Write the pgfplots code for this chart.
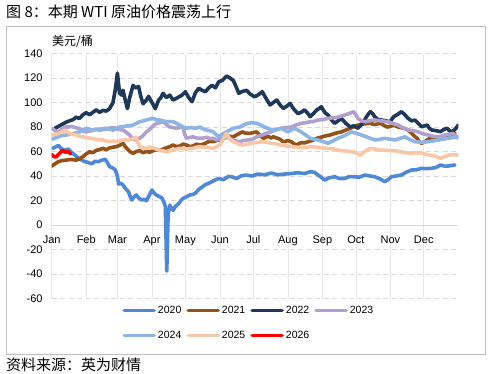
\documentclass[border=0pt]{standalone}
\usepackage{fontspec}
\setmainfont{Liberation Sans}
\newfontfamily\cjk{Noto Sans CJK SC}
\usepackage{pgfplots}
\pgfplotsset{compat=1.18}
\definecolor{cA}{RGB}{79,136,212}
\definecolor{cB}{RGB}{148,82,24}
\definecolor{cC}{RGB}{31,56,90}
\definecolor{cD}{RGB}{177,160,207}
\definecolor{cE}{RGB}{142,180,227}
\definecolor{cF}{RGB}{247,200,168}
\definecolor{cG}{RGB}{255,0,0}
\definecolor{frame}{RGB}{191,191,191}
\definecolor{gridc}{RGB}{217,217,217}
\definecolor{vgridc}{RGB}{230,230,230}
\begin{document}
\begin{tikzpicture}
\path[use as bounding box] (0pt,0pt) rectangle (494pt,-373pt);
\draw[color=frame, line width=0.8pt] (6.5pt,-26.5pt) rectangle (485pt,-354pt);
\node[anchor=west, inner sep=0pt, font=\cjk\fontsize{15}{18}\selectfont] at (6pt,-12pt) {图 8：本期 WTI 原油价格震荡上行};
\node[anchor=west, inner sep=0pt, font=\cjk\fontsize{15}{18}\selectfont] at (6pt,-365pt) {资料来源：英为财情};
\node[anchor=west, inner sep=0pt, font=\cjk\fontsize{12}{14}\selectfont] at (52pt,-42pt) {美元/桶};
\begin{axis}[
  at={(51.7pt,-298.5pt)}, anchor=south west,
  scale only axis, width=406.6pt, height=245pt,
  xmin=0, xmax=365, ymin=-60, ymax=140,
  axis x line*=middle, axis y line*=left,
  hide obscured x ticks=false, hide obscured y ticks=false,
  x axis line style={color=gridc, line width=0.8pt},
  y axis line style={draw=none},
  tick style={draw=none},
  xtick={0,31,59,90,120,151,181,212,243,273,304,334},
  xticklabels={Jan,Feb,Mar,Apr,May,Jun,Jul,Aug,Sep,Oct,Nov,Dec},
  ytick={-60,-40,-20,0,20,40,60,80,100,120,140},
  /pgf/number format/assume math mode=true,
  xticklabel style={font=\fontsize{11}{13}\selectfont, anchor=north, inner sep=0pt, yshift=-10.5pt},
  yticklabel style={font=\fontsize{11}{13}\selectfont, anchor=east, inner sep=0pt, xshift=-9pt},
  xmajorgrids, ymajorgrids,
  x grid style={color=vgridc, line width=0.6pt},
  y grid style={color=gridc, line width=0.8pt, dash pattern=on 5pt off 3.5pt},
  every axis plot/.append style={line width=3.6pt, line join=round, line cap=round},
  legend columns=4,
  legend image code/.code={\draw[#1, line cap=round] (0pt,0pt) -- (30pt,0pt);},
  legend style={draw=none, fill=none, at={(0.166,-0.0143)}, anchor=north west,
    font=\fontsize{10.5}{12}\selectfont, row sep=12pt,
    /tikz/every even column/.append style={column sep=3pt},
    nodes={inner sep=2pt}},
]
\addplot[cA] coordinates {(1,62.6)(4,64)(6,65)(9,62)(12,61)(15,62)(18,59)(21,57)(24,54.4)(27,53)(30,51.7)(33,51)(36,50)(39,52)(42,51.7)(45,53)(48,53.6)(50,51)(52,47.6)(55,46.5)(57,45)(59,40)(60,33.5)(62,34)(64,32.7)(66,30)(69,27)(71,22)(72,20.4)(74,23)(76,24.5)(78,22)(81,20.4)(83,21)(85,19.8)(88,25)(90,28.6)(92,26)(94,24.5)(97,23)(99,22)(101,18)(102,15)(103.3,-37.6)(104.5,8)(106,16.3)(108,13)(109,12)(111,15)(114,17.5)(116,20)(118,21.8)(121,23)(124,24.5)(127,25)(129,26)(132,29)(135,31)(138,33)(141,34)(145,36)(150,38)(154,37)(159,39.8)(163,39)(166,38)(170,40)(174,40.8)(180,40)(185,41.6)(191,41)(197,42.4)(203,41)(209,41.6)(215,42)(221,42.7)(227,42)(232,43.5)(236,43)(239,40.8)(242,39)(245,36.7)(249,38.5)(254,39.4)(258,38)(263,38)(267,39.5)(272,39.4)(276,39)(281,40.8)(286,40)(290,39.4)(295,37.5)(299,35.4)(302,37)(305,39.4)(309,40)(314,40.8)(318,43)(323,44.9)(327,45)(332,46.3)(336,46)(341,46.3)(345,47)(349,49)(353,48)(356,48.2)(362,49)};
\addplot[cB] coordinates {(0,48)(3,50)(6,51.7)(9,52.5)(13,53)(17,53.5)(22,53)(25,54)(28,55.8)(31,58)(34,59.8)(37,59)(40,61)(43,61.5)(46,62.6)(49,61.5)(52,63)(55,63.5)(58,64)(61,65)(64,66.8)(66,64)(69,61)(71,59.5)(73,58.5)(76,60)(79,60.7)(82,59)(85,60)(88,59.5)(91,60.7)(94,61.5)(97,61)(100,62)(103,63)(106,64)(109,65.3)(112,64)(115,64.5)(118,66)(121,65.3)(124,64)(127,64.5)(130,66)(133,65.3)(136,66)(139,67.2)(142,68.5)(145,68)(148,69)(151,69.4)(154,70.5)(157,71.6)(160,72.5)(163,72)(167,74)(171,76)(174,75)(178,74.8)(181,75.5)(184,76)(187,73)(190,70.8)(192,71.5)(194,72.6)(197,71)(199,72)(202,71)(205,70)(207,68.5)(209,68)(212,69)(215,68)(218,66)(220,65.3)(222,66.5)(224,67.2)(227,67)(230,68)(234,69)(238,70.8)(241,71.5)(245,72.6)(250,73.5)(255,75)(260,76)(264,77.5)(268,79)(272,80.5)(275,81.6)(280,82.5)(286,83)(290,82)(295,83)(298,81.5)(301,80)(304,80.5)(307,81.6)(311,80)(316,79)(319,78)(322,76)(325,73)(328,70.8)(330,68)(332,66.7)(335,68)(337,69.4)(340,71)(343,72)(346,71.5)(349,71)(353,71.5)(356,72)(359,73.5)(362,75)};
\addplot[cC] coordinates {(3,79)(6,80.5)(9,82)(13,84)(16,85)(19,86)(22,88)(25,87)(28,90)(31,91.7)(34,90)(37,92)(40,94)(43,92)(46,93.5)(49,93)(52,95)(55,100)(57,110)(59,124)(60,115)(61,107.5)(63,106)(64,110)(66,102)(68,95)(70,104)(73,114)(75,112)(78,113)(80,105)(82,99)(85,102)(87,105)(90,100)(93,95)(96,102)(98,104)(100,107.5)(103,104)(106,106)(109,102)(113,104)(117,106)(120,108.8)(123,104)(126,100.7)(129,108)(132,111.6)(135,110)(138,108.8)(141,112)(144,114)(147,112)(150,117)(153,118)(157,121.6)(160,120)(163,118)(165,114)(168,107.5)(171,109)(175,110)(178,107)(182,104.7)(185,106)(189,108.8)(192,104)(196,98)(199,100)(202,102)(205,98)(208,95.2)(211,97)(214,99.3)(217,95)(221,91)(224,92)(227,94)(230,91)(232,88.4)(235,91)(238,94)(240,95)(242,96.6)(245,92)(248,89.8)(251,86)(254,83)(257,85)(260,87)(264,83)(268,80)(271,81)(275,79)(277,81)(280,84.3)(283,89)(286,92.5)(288,91)(290,88.4)(293,86)(296,85.7)(300,85)(304,84.3)(305,86)(307,88.4)(310,90)(314,92.5)(317,90)(320,87)(323,85)(326,85.7)(329,83)(332,80.2)(335,81)(337,81.6)(339,79)(341,77.6)(345,77)(349,76.2)(352,78)(355,79)(357,77)(359,76.2)(362,78)(365,81.6)};
\addplot[cD] coordinates {(0,79)(3,77)(6,76)(9,78)(12,80)(15,80)(18,80.5)(21,79.5)(24,79)(27,77.5)(30,76)(33,76.5)(36,77)(40,78)(43,77.5)(47,78)(52,79)(55,79.5)(58,79)(61,78)(64,77.5)(67,75.5)(70,73.5)(72,71)(75,69.4)(77,70)(79,70.8)(82,73)(85,76)(88,78)(90,80)(92,81.5)(94,83)(97,83.5)(100,84.3)(103,82)(106,80)(109,79.5)(112,79)(115,79.5)(118,80)(119,75)(121,70.8)(124,71.5)(127,72)(130,71)(133,70.8)(136,71)(139,71.6)(142,70.5)(145,70.8)(148,69.5)(151,70)(154,71)(157,72)(160,70.5)(163,69.4)(166,68.5)(169,68)(172,69)(176,69.4)(180,70)(184,72)(189,73.5)(193,75)(197,76)(201,77.5)(206,79)(210,79.5)(215,80)(219,81.5)(224,83)(228,83.5)(232,84.3)(235,84.5)(239,85.7)(243,86)(248,87)(252,87.5)(257,88)(260,89)(263,89.8)(267,91)(271,92.5)(273,90)(275,87)(278,85)(281,84.3)(285,85)(290,85.7)(296,85)(302,84.3)(306,83)(311,81.6)(315,79.5)(320,77.6)(325,77)(329,76)(333,74.5)(338,73.5)(342,72.5)(347,72)(350,72.5)(353,73.5)(357,74)(360,74.8)(363,72.5)(365,70.8)};
\addplot[cE] coordinates {(0,70)(3,71)(6,72)(9,73)(13,73.5)(17,74)(21,75)(25,76)(28,77.5)(31,79)(34,78)(37,77.5)(41,78)(45,78.5)(49,79)(52,78)(55,77.5)(58,78.5)(61,80)(65,80.5)(69,81)(73,81.6)(76,83)(79,84.3)(82,85)(85,85.7)(88,86.5)(91,87)(94,86)(97,85.7)(100,85)(103,84.3)(106,84.5)(109,84.3)(112,83)(115,81.6)(118,80)(121,79)(125,79.5)(129,79)(133,80)(136,78.5)(139,77.5)(142,77)(145,76)(148,73.5)(150,72)(153,74)(157,76)(160,77.5)(163,79)(166,79.5)(169,80)(172,81.5)(176,83)(180,83.5)(184,83)(188,81.5)(191,80)(195,78.5)(199,77.5)(203,78)(206,79)(209,77.5)(212,76)(215,77.5)(218,79)(221,77.5)(224,76)(228,73.5)(232,70.8)(236,70)(239,69.4)(244,68)(248,66.8)(252,68.5)(257,70.8)(263,73)(269,76)(273,75)(278,73.5)(284,71.5)(290,69.4)(295,70)(299,70.8)(304,70)(308,69.4)(312,70.5)(317,72)(321,70)(326,68)(332,67.5)(338,68)(342,68.5)(347,69.4)(351,70)(356,70.8)(361,71.5)(365,72)};
\addplot[cF] coordinates {(0,73.5)(3,74)(6,74.8)(9,76)(12,77.5)(14,76)(16,74.8)(19,74)(22,73.5)(25,72.5)(28,72)(31,71.5)(34,70.8)(37,70.5)(40,70)(43,69.5)(46,69.4)(49,68.5)(52,68)(55,68.5)(58,68)(61,68.5)(64,69.4)(67,69.5)(70,69.4)(73,70.5)(76,71.6)(77,68)(79,64)(82,63)(85,62.6)(88,63.5)(91,63)(94,62)(97,61)(100,60.5)(103,59.8)(106,60.5)(109,61)(112,62)(115,62.6)(118,62.5)(121,62)(124,62.5)(127,62.6)(130,63.5)(133,64)(136,63.5)(139,63.5)(142,63)(145,62.6)(148,64)(151,65.3)(154,70)(157,74.8)(160,70)(163,68)(167,66.5)(171,65.3)(176,66)(180,66.8)(185,67.5)(189,68)(193,67.5)(197,66.8)(202,66)(206,65.3)(211,64.5)(215,64)(220,63.5)(224,63.2)(229,63.5)(233,64)(238,63.5)(242,63)(245,62.8)(248,62.6)(253,62)(257,61)(263,60.5)(269,59.8)(273,59)(277,57)(281,60)(286,62.6)(290,62)(295,61.2)(300,61)(304,60.7)(309,60.5)(313,59.8)(318,59)(322,58.5)(326,59)(331,58.5)(335,58)(340,57)(345,56)(349,54.4)(352,55.5)(356,57)(360,57.5)(365,57)};
\addplot[cG] coordinates {(0,57.5)(2,56)(4,55.5)(7,58.5)(10,61)(12,59.5)(15,59.8)(17,58)};
\legend{2020,2021,2022,2023,2024,2025,2026}
\end{axis}
\end{tikzpicture}
\end{document}
